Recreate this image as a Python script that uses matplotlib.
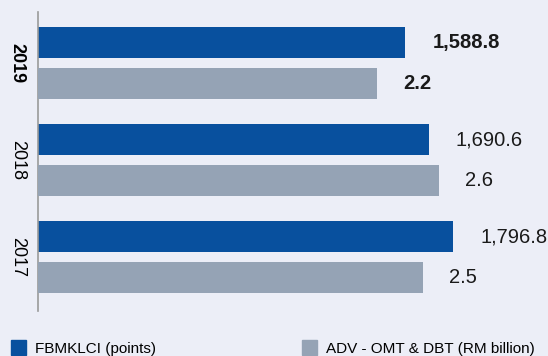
import matplotlib.pyplot as plt
from matplotlib.patches import Patch
from matplotlib import font_manager

years = ['2019', '2018', '2017']
fbmklci = [1588.8, 1690.6, 1796.8]      # points
adv = [2.2, 2.6, 2.5]                   # RM billion
fbmklci_labels = ['1,588.8', '1,690.6', '1,796.8']
adv_labels = ['2.2', '2.6', '2.5']
bold_year = '2019'

blue = '#08509e'
grey = '#95a3b5'
bg = '#eceef7'

names = {f.name for f in font_manager.fontManager.ttflist}
fam = 'Liberation Sans Narrow' if 'Liberation Sans Narrow' in names else 'Liberation Sans'
plt.rcParams['font.family'] = [fam, 'DejaVu Sans']

W, H = 548, 356
fig = plt.figure(figsize=(W / 100, H / 100), dpi=100, facecolor=bg)
# axes from x=38 px to right edge, y=12 px to 311 px
ax = fig.add_axes([38 / W, 1 - 311 / H, 1 - 38 / W, 299 / H])
ax.set_facecolor(bg)
ax2 = ax.twiny()

pos = list(range(len(years)))
off = 0.211
h = 0.32

ax.barh([p - off for p in pos], fbmklci, height=h, color=blue)
ax2.barh([p + off for p in pos], adv, height=h, color=grey)

# independent scales for the two series
ax.set_xlim(0, (W - 38) / 0.2312)
ax2.set_xlim(0, (W - 38) / 154.2)
ax.set_ylim(2.557, -0.526)
ax2.set_ylim(2.557, -0.526)

for i, y in enumerate(years):
    wt = 'bold' if y == bold_year else 'normal'
    ax.annotate(fbmklci_labels[i], (fbmklci[i], pos[i] - off), xytext=(27, 0),
                textcoords='offset pixels', va='center', ha='left',
                fontsize=14.5, fontweight=wt, color='#1a1a1a')
    ax2.annotate(adv_labels[i], (adv[i], pos[i] + off), xytext=(26, 0),
                 textcoords='offset pixels', va='center', ha='left',
                 fontsize=14.5, fontweight=wt, color='#1a1a1a')

ax.set_yticks(pos)
ax.set_yticklabels(years, rotation=270, va='center', ha='center', fontsize=13)
for lbl in ax.get_yticklabels():
    if lbl.get_text() == bold_year:
        lbl.set_fontweight('bold')
ax.tick_params(axis='y', length=0, pad=15)
ax.set_xticks([])
ax2.set_xticks([])

for a in (ax, ax2):
    for s in ('top', 'right', 'bottom'):
        a.spines[s].set_visible(False)
ax2.spines['left'].set_visible(False)
ax.spines['left'].set_color('#9a9a9a')
ax.spines['left'].set_linewidth(1.2)

leg_kw = dict(frameon=False, fontsize=11, handlelength=1.0, handleheight=1.15,
              handletextpad=0.6, borderpad=0, borderaxespad=0)
fig.legend(handles=[Patch(color=blue, label='FBMKLCI (points)')],
           loc='center left', bbox_to_anchor=(11 / W, 1 - 348 / H), **leg_kw)
fig.legend(handles=[Patch(color=grey, label='ADV - OMT & DBT (RM billion)')],
           loc='center left', bbox_to_anchor=(302 / W, 1 - 348 / H), **leg_kw)

fig.savefig('out.png', dpi=100, facecolor=bg)
